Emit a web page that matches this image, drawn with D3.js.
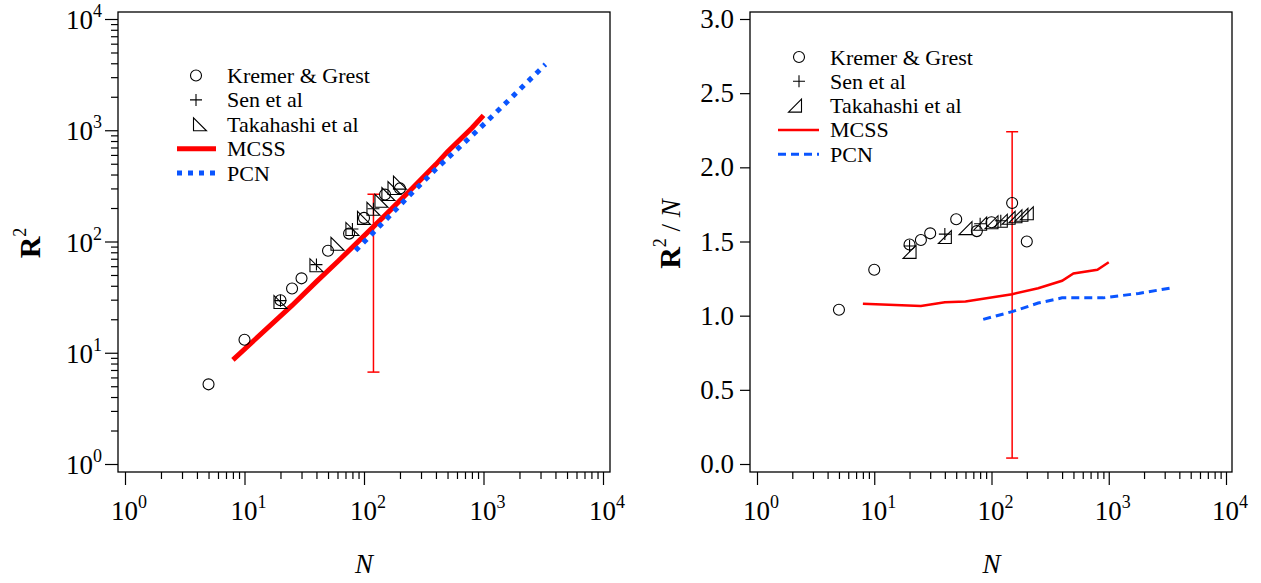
<!DOCTYPE html>
<html>
<head>
<meta charset="utf-8">
<script src="https://cdn.jsdelivr.net/npm/d3@7/dist/d3.min.js"></script>
<style>
  html, body { margin: 0; padding: 0; background: #fff; }
  svg { display: block; }
  svg text { font-family: "Liberation Serif", "DejaVu Serif", "Times New Roman", serif; }
</style>
</head>
<body>
<svg id="chart" width="1261" height="583"></svg>
<script>
// ---- data: chain length N and mean-square end-to-end distance per bond, R^2/N ----
const kgN      = [5, 10, 20, 25, 30, 50, 75, 100, 150, 200];
const kgRatio  = [1.04, 1.31, 1.48, 1.51, 1.555, 1.65, 1.57, 1.63, 1.76, 1.50];

const senN     = [20, 40, 80, 120];
const senRatio = [1.47, 1.55, 1.62, 1.64];

const takN     = [20, 40, 60, 80, 100, 120, 140, 160, 180, 200];
const takRatio = [1.43, 1.53, 1.59, 1.62, 1.63, 1.64, 1.66, 1.67, 1.68, 1.69];

const mcssN     = [8, 25, 40, 60, 150, 250, 400, 500, 800, 1000];
const mcssRatio = [1.08, 1.065, 1.09, 1.095, 1.145, 1.185, 1.235, 1.285, 1.31, 1.36];

const pcnN     = [85, 150, 250, 400, 900, 1800, 3300];
const pcnRatio = [0.975, 1.027, 1.085, 1.12, 1.12, 1.15, 1.185];

// error bars (N, low, high) for each panel
const errLeft  = [120, 6.7, 266];
const errRight = [150, 0.04, 2.24];

const logTicks = [0, 1, 2, 3, 4];           // exponents for 10^k labels
const ratioTicks = [0, 0.5, 1, 1.5, 2, 2.5, 3];
const legendLabels = ["Kremer & Grest", "Sen et al", "Takahashi et al", "MCSS", "PCN"];

const RED = "#ff0000";
const BLUE = "#0a55ff";

const svg = d3.select("#chart");

// minor ticks 2..9 per decade
function minorTicks(lo, hi) {
  const out = [];
  for (let e = lo; e < hi; e++) for (let m = 2; m <= 9; m++) out.push(m * Math.pow(10, e));
  return out;
}

function pow10Label(sel, exp) {
  sel.append("tspan").text("10");
  sel.append("tspan").attr("font-size", 18).attr("dy", -12).text(exp);
}

function drawPanel(p) {
  const g = svg.append("g");
  const x = d3.scaleLog().domain([1, 1e4]).range(p.xr);
  const y = p.logY ? d3.scaleLog().domain([1, 1e4]).range(p.yr)
                   : d3.scaleLinear().domain([0, 3]).range(p.yr);
  const yv = p.logY ? (n, r) => n * r : (n, r) => r;

  // frame
  g.append("rect").attr("x", p.frame[0]).attr("y", p.frame[1])
    .attr("width", p.frame[2] - p.frame[0]).attr("height", p.frame[3] - p.frame[1])
    .attr("fill", "none").attr("stroke", "#000").attr("stroke-width", 1.3);

  // bottom axis (log N)
  const xMaj = logTicks.map(k => Math.pow(10, k));
  const bx = g.append("g").attr("transform", `translate(0,${p.frame[3]})`);
  bx.call(d3.axisBottom(x).tickValues(xMaj).tickSize(13).tickFormat(""));
  bx.append("g").call(d3.axisBottom(x).tickValues(minorTicks(0, 4)).tickSize(7).tickFormat(""));
  bx.selectAll(".domain").remove();
  bx.selectAll("line").attr("stroke", "#000").attr("stroke-width", 1.2);
  logTicks.forEach(k => {
    const t = g.append("text").attr("x", x(Math.pow(10, k)) - 14).attr("y", 520)
      .attr("font-size", 27).attr("fill", "#000");
    pow10Label(t, k);
  });

  // left axis
  const ly = g.append("g").attr("transform", `translate(${p.frame[0]},0)`);
  if (p.logY) {
    ly.call(d3.axisLeft(y).tickValues(xMaj).tickSize(13).tickFormat(""));
    ly.append("g").call(d3.axisLeft(y).tickValues(minorTicks(0, 4)).tickSize(7).tickFormat(""));
    logTicks.forEach(k => {
      const t = g.append("text").attr("x", 66).attr("y", y(Math.pow(10, k)) + 10)
        .attr("font-size", 27).attr("fill", "#000");
      pow10Label(t, k);
    });
  } else {
    ly.call(d3.axisLeft(y).tickValues(ratioTicks).tickSize(10).tickFormat(""));
    ratioTicks.forEach(v => {
      g.append("text").attr("x", 734).attr("y", y(v) + 9).attr("text-anchor", "end")
        .attr("font-size", 27).text(d3.format(".1f")(v));
    });
  }
  ly.selectAll(".domain").remove();
  ly.selectAll("line").attr("stroke", "#000").attr("stroke-width", 1.2);

  // axis titles
  const cx = (p.xr[0] + p.xr[1]) / 2;
  g.append("text").attr("x", cx).attr("y", 573).attr("text-anchor", "middle")
    .attr("font-size", 27).attr("font-style", "italic").text("N");
  const yt = g.append("text").attr("transform", `translate(${p.ytx},${p.yty}) rotate(-90)`)
    .attr("text-anchor", "middle").attr("font-size", 30);
  yt.append("tspan").attr("font-weight", "bold").text("R");
  yt.append("tspan").attr("font-size", 18).attr("dy", -14).text("2");
  if (!p.logY) {
    yt.append("tspan").attr("dy", 14).attr("font-size", 27).text(" / ");
    yt.append("tspan").attr("font-size", 27).attr("font-style", "italic").text("N");
  }

  // error bar
  const e = p.err;
  const ex = x(e[0]);
  g.append("line").attr("x1", ex).attr("x2", ex).attr("y1", y(e[1])).attr("y2", y(e[2]))
    .attr("stroke", RED).attr("stroke-width", 1.5);
  [e[1], e[2]].forEach(v => g.append("line").attr("x1", ex - 6).attr("x2", ex + 6)
    .attr("y1", y(v)).attr("y2", y(v)).attr("stroke", RED).attr("stroke-width", 1.5));

  // simulation curves
  const line = d3.line().x(d => x(d[0])).y(d => y(yv(d[0], d[1])));
  g.append("path").datum(d3.zip(mcssN, mcssRatio)).attr("d", line)
    .attr("fill", "none").attr("stroke", RED).attr("stroke-width", p.redW);
  g.append("path").datum(d3.zip(pcnN, pcnRatio)).attr("d", line)
    .attr("fill", "none").attr("stroke", BLUE).attr("stroke-width", p.blueW)
    .attr("stroke-dasharray", p.blueDash);

  // markers
  const mk = { fill: "none", stroke: "#000", "stroke-width": 1.1 };
  const triPath = p.triLeft
    ? "M-6.5,-6.5L-6.5,6.5L6.5,6.5Z"     // vertical edge on the left
    : "M6.5,-6.5L6.5,6.5L-6.5,6.5Z";     // vertical edge on the right
  const plusPath = "M-6,0L6,0M0,-6L0,6";
  function place(sel) { return sel.attr("transform", d => `translate(${x(d[0])},${y(yv(d[0], d[1]))})`); }
  function style(sel) { Object.entries(mk).forEach(([k, v]) => sel.attr(k, v)); return sel; }

  style(place(g.append("g").selectAll("path.tak").data(d3.zip(takN, takRatio)).join("path")
    .attr("d", triPath)));
  style(place(g.append("g").selectAll("circle").data(d3.zip(kgN, kgRatio)).join("circle")
    .attr("r", 5.5)));
  style(place(g.append("g").selectAll("path.sen").data(d3.zip(senN, senRatio)).join("path")
    .attr("d", plusPath)));

  // legend
  const L = p.legend;
  const lg = g.append("g");
  legendLabels.forEach((lab, i) => {
    const ry = L.y0 + i * L.dy;
    lg.append("text").attr("x", L.tx).attr("y", ry + 7.5).attr("font-size", 22).text(lab);
  });
  style(lg.append("circle").attr("cx", L.sx).attr("cy", L.y0).attr("r", 5.5));
  style(lg.append("path").attr("d", plusPath).attr("transform", `translate(${L.sx},${L.y0 + L.dy})`));
  style(lg.append("path").attr("d", triPath).attr("transform", `translate(${L.sx + L.triDx},${L.y0 + 2 * L.dy})`));
  lg.append("line").attr("x1", L.lx[0]).attr("x2", L.lx[1]).attr("y1", L.y0 + 3 * L.dy).attr("y2", L.y0 + 3 * L.dy)
    .attr("stroke", RED).attr("stroke-width", p.redW);
  lg.append("line").attr("x1", L.lx[0]).attr("x2", L.lx[1]).attr("y1", L.y0 + 4 * L.dy).attr("y2", L.y0 + 4 * L.dy)
    .attr("stroke", BLUE).attr("stroke-width", p.blueW).attr("stroke-dasharray", p.blueDash);
}

drawPanel({
  xr: [125, 603], yr: [464, 19], frame: [118, 12, 610, 472], logY: true,
  ytx: 40, yty: 243, err: errLeft, redW: 5, blueW: 5, blueDash: "5,6", triLeft: true,
  legend: { y0: 75.5, dy: 24.4, sx: 196, triDx: 4, tx: 227, lx: [177, 216] }
});

drawPanel({
  xr: [757, 1226], yr: [464, 19], frame: [750, 12, 1232, 472], logY: false,
  ytx: 680, yty: 234, err: errRight, redW: 2.5, blueW: 3, blueDash: "8,5", triLeft: false,
  legend: { y0: 57, dy: 24.3, sx: 799, triDx: -4, tx: 830, lx: [778, 819] }
});
</script>
</body>
</html>
